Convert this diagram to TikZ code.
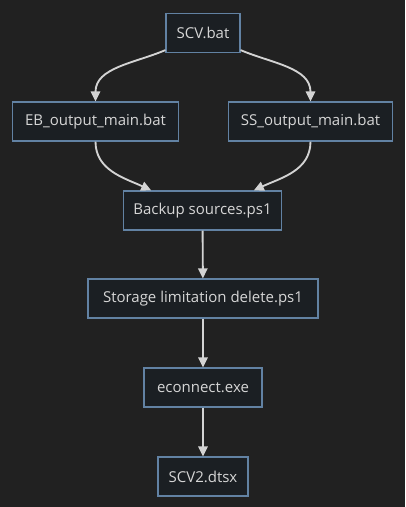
\documentclass[tikz,border=0pt]{standalone}
\usepackage{fontspec}
\setmainfont{Open Sans}
\usepackage{xcolor}
\usetikzlibrary{arrows.meta,positioning}
\definecolor{bgdark}{HTML}{212121}
\definecolor{boxfill}{HTML}{1B1F23}
\definecolor{boxline}{HTML}{6282A3}
\definecolor{txtlight}{HTML}{D6D6D6}
\definecolor{linkgray}{HTML}{D3D3D3}

\begin{document}
\begin{tikzpicture}[x=0.75pt,y=-0.75pt,
    fileBox/.style={draw=boxline,line width=0.9pt,fill=boxfill,text=txtlight,
        font=\fontsize{11.25}{13}\selectfont,minimum height=29.25pt,inner xsep=0pt},
    link/.style={-{Triangle[length=7.5pt,width=7pt]},line width=1.4pt,draw=linkgray}]
        % Draw background
        \fill[bgdark] (0,0) rectangle (405,507);
        \useasboundingbox (0,0) rectangle (405,507);

        % Draw file nodes
        \node[fileBox,minimum width=55.5pt] (scv) at (203,33) {SCV.bat};
        \node[fileBox,minimum width=125pt] (eb) at (95.5,121.5) {EB\_output\_main.bat};
        \node[fileBox,minimum width=123.5pt] (ss) at (310.5,121.5) {SS\_output\_main.bat};
        \node[fileBox,minimum width=119pt] (backup) at (202.5,210.5) {Backup sources.ps1};
        \node[fileBox,minimum width=172.5pt] (storage) at (203,298.5) {Storage limitation delete.ps1};
        \node[fileBox,minimum width=88.5pt] (econnect) at (203,387.5) {econnect.exe};
        \node[fileBox,minimum width=67.5pt] (dtsx) at (203,476.5) {SCV2.dtsx};

        % Draw curved links
        \draw[link] (scv.south west) ++(0,-3) to[out=203,in=90] (eb.north);
        \draw[link] (scv.south east) ++(0,-3) to[out=-23,in=90] (ss.north);
        \draw[link] (eb.south) to[out=-90,in=155] ([xshift=-38.5pt]backup.north);
        \draw[link] (ss.south) to[out=-90,in=25] ([xshift=38.5pt]backup.north);

        % Draw straight links
        \draw[link] (backup) -- (storage);
        \draw[link] (storage) -- (econnect);
        \draw[link] (econnect) -- (dtsx);

    \end{tikzpicture}
\end{document}
